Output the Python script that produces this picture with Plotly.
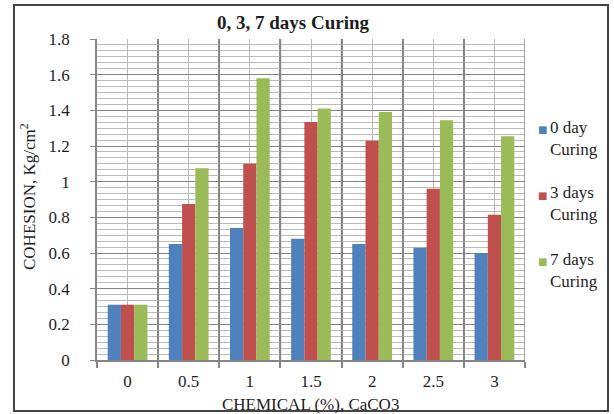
import plotly.graph_objects as go

# Cohesion results for CaCO3-treated soil after 0, 3 and 7 days of curing
chemical_pct = ["0", "0.5", "1", "1.5", "2", "2.5", "3"]
cohesion_0_day = [0.31, 0.65, 0.74, 0.68, 0.65, 0.63, 0.60]
cohesion_3_days = [0.31, 0.875, 1.10, 1.335, 1.23, 0.96, 0.815]
cohesion_7_days = [0.31, 1.075, 1.58, 1.41, 1.39, 1.345, 1.255]

series_names = ["0 day", "3 days", "7 days"]
series_values = [cohesion_0_day, cohesion_3_days, cohesion_7_days]
series_colors = ["#4F81BD", "#C0504D", "#9BBB59"]
legend_suffix = "Curing"

FONT = "Liberation Serif, Times New Roman, serif"
TEXT = "#1e1e1e"
GRID_DARK = "#858585"
GRID_MID = "#B8B8B8"
GRID_LIGHT = "#BBBBBB"
positions = list(range(len(chemical_pct)))

# plot area in pixels
L, R, T, B = 97, 525, 39, 360
W, H = 614, 414

Y_MAX, Y_MAJOR, Y_MINOR_SPLIT = 1.8, 0.2, 6


def px_x(px):
    return (px - L) / (R - L)


def px_y(py):
    return (B - py) / (B - T)


fig = go.Figure()
for name, vals, col in zip(series_names, series_values, series_colors):
    fig.add_trace(go.Bar(
        x=positions, y=vals, name=f"{name} {legend_suffix}",
        marker_color=col, marker_line_width=0,
    ))

annotations = [
    dict(text="COHESION, Kg/cm<sup>2</sup>", textangle=-90,
         xref="paper", yref="paper", x=px_x(28), y=px_y(197),
         xanchor="center", yanchor="middle", showarrow=False,
         font=dict(family=FONT, size=17, color=TEXT)),
    dict(text="CHEMICAL (%), CaCO3",
         xref="paper", yref="paper", x=px_x(310), y=px_y(404),
         xanchor="center", yanchor="middle", showarrow=False,
         font=dict(family=FONT, size=17, color=TEXT)),
]

# legend drawn as a colour square plus a two-line label per series
legend_rows = [129, 195, 261]
for name, col, yrow in zip(series_names, series_colors, legend_rows):
    annotations.append(dict(
        text="■", xref="paper", yref="paper", x=px_x(542), y=px_y(yrow),
        xanchor="center", yanchor="middle", showarrow=False,
        font=dict(family="DejaVu Sans", size=10, color=col)))
    annotations.append(dict(
        text=f"{name}<br>{legend_suffix}", align="left",
        xref="paper", yref="paper", x=px_x(548), y=px_y(yrow + 9),
        xanchor="left", yanchor="middle", showarrow=False,
        font=dict(family=FONT, size=17, color=TEXT)))

# category boundary lines, kept solid over the fine horizontal grid
# (they sit in the gaps between bar groups)
shapes = [
    dict(type="line", xref="x", yref="paper", x0=k - 0.5, x1=k - 0.5,
         y0=0, y1=1, layer="above", line=dict(color=GRID_DARK, width=1.5))
    for k in range(1, len(chemical_pct) + 1)
]
shapes.append(dict(
    type="rect", xref="paper", yref="paper",
    x0=px_x(14), x1=px_x(608), y0=px_y(411), y1=px_y(5),
    line=dict(color="#444", width=2), fillcolor="rgba(0,0,0,0)",
    layer="above"))

fig.update_layout(
    width=W, height=H,
    margin=dict(l=L, r=W - R, t=T, b=H - B),
    paper_bgcolor="white", plot_bgcolor="white",
    barmode="group", bargap=0.35, bargroupgap=0,
    font=dict(family=FONT, size=17, color=TEXT),
    title=dict(
        text="<b>0, 3, 7 days Curing</b>",
        font=dict(family=FONT, size=19, color=TEXT),
        x=293 / W, xref="container", xanchor="center",
        y=1 - 22 / H, yref="container", yanchor="middle",
    ),
    showlegend=False,
    xaxis=dict(
        range=[-0.5, 6.5],
        tickmode="array", tickvals=positions, ticktext=chemical_pct,
        ticks="", showgrid=True, gridcolor=GRID_MID, gridwidth=1.2,
        tickfont=dict(family=FONT, size=17, color=TEXT),
        ticklabelstandoff=5,
        showline=True, linecolor=GRID_DARK, linewidth=1.5,
        zeroline=False,
        minor=dict(tick0=-0.5, dtick=1, showgrid=True, gridcolor=GRID_DARK,
                   gridwidth=1.5, ticks="outside", ticklen=6,
                   tickcolor=GRID_DARK, tickwidth=1.5),
    ),
    yaxis=dict(
        range=[0, Y_MAX], dtick=Y_MAJOR, tick0=0,
        ticks="outside", ticklen=5, tickcolor=GRID_DARK,
        showgrid=True, gridcolor=GRID_DARK, gridwidth=1,
        tickfont=dict(family=FONT, size=17, color=TEXT),
        ticksuffix="\u2002\u2002",
        showline=True, linecolor=GRID_DARK, linewidth=1.5,
        zeroline=False,
        minor=dict(dtick=Y_MAJOR / Y_MINOR_SPLIT, tick0=0,
                   showgrid=True, gridcolor=GRID_LIGHT, gridwidth=1),
    ),
    annotations=annotations,
    shapes=shapes,
)

fig.write_html("out.html")
